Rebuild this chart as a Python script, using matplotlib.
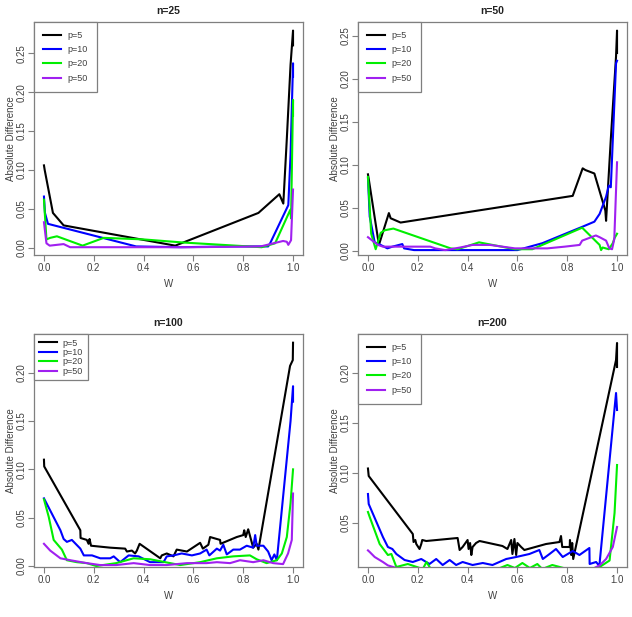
import matplotlib
matplotlib.use('Agg')
import matplotlib.pyplot as plt

plt.rcParams['font.family'] = ['Liberation Sans', 'DejaVu Sans']

labels = ['p=5', 'p=10', 'p=20', 'p=50']
colors = ['black', '#0000FF', '#00EE00', '#A020F0']

# ---- n=25 ----
w25_p5 = [0.0, 0.003, 0.036, 0.079, 0.527, 0.861, 0.945, 0.961, 0.975, 0.990, 1.0, 1.0]
d25_p5 = [0.106, 0.100, 0.045, 0.029, 0.003, 0.045, 0.069, 0.057, 0.140, 0.235, 0.279, 0.260]
w25_p10 = [0.0, 0.004, 0.016, 0.37, 0.55, 0.75, 0.90, 0.908, 0.981, 0.99, 1.0, 1.0]
d25_p10 = [0.066, 0.045, 0.031, 0.002, 0.001, 0.002, 0.002, 0.006, 0.055, 0.12, 0.237, 0.22]
w25_p20 = [0.0, 0.010, 0.025, 0.052, 0.155, 0.24, 0.40, 0.56, 0.874, 0.928, 0.989, 0.992, 1.0, 1.0]
d25_p20 = [0.062, 0.011, 0.013, 0.015, 0.003, 0.013, 0.011, 0.007, 0.001, 0.006, 0.049, 0.038, 0.19, 0.17]
w25_p50 = [0.0, 0.010, 0.023, 0.079, 0.105, 0.30, 0.60, 0.87, 0.96, 0.975, 0.981, 0.992, 1.0]
d25_p50 = [0.033, 0.006, 0.003, 0.005, 0.001, 0.001, 0.001, 0.002, 0.009, 0.008, 0.004, 0.010, 0.075]

# ---- n=50 ----
w50_p5 = [0.0, 0.004, 0.044, 0.084, 0.091, 0.131, 0.822, 0.862, 0.873, 0.909, 0.953, 0.956, 0.975, 0.996, 1.0, 1.0]
d50_p5 = [0.089, 0.082, 0.007, 0.044, 0.038, 0.033, 0.064, 0.096, 0.094, 0.090, 0.047, 0.035, 0.13, 0.226, 0.256, 0.23]
w50_p10 = [0.0, 0.007, 0.027, 0.044, 0.078, 0.098, 0.138, 0.145, 0.185, 0.60, 0.70, 0.86, 0.909, 0.93, 0.956, 0.967, 0.975, 0.996, 1.0]
d50_p10 = [0.085, 0.040, 0.010, 0.008, 0.003, 0.005, 0.008, 0.003, 0.001, 0.001, 0.009, 0.028, 0.034, 0.043, 0.063, 0.076, 0.074, 0.218, 0.221]
w50_p20 = [0.0, 0.013, 0.031, 0.051, 0.067, 0.102, 0.332, 0.36, 0.446, 0.50, 0.59, 0.66, 0.86, 0.93, 0.936, 0.942, 0.967, 0.983, 0.99, 1.0]
d50_p20 = [0.086, 0.020, 0.002, 0.021, 0.024, 0.026, 0.003, 0.002, 0.010, 0.007, 0.002, 0.002, 0.027, 0.007, 0.001, 0.004, 0.002, 0.009, 0.015, 0.020]
w50_p50 = [0.0, 0.04, 0.06, 0.19, 0.25, 0.27, 0.31, 0.37, 0.42, 0.49, 0.59, 0.72, 0.79, 0.85, 0.86, 0.915, 0.93, 0.956, 0.969, 0.98, 0.989, 1.0]
d50_p50 = [0.016, 0.007, 0.005, 0.005, 0.005, 0.003, 0.001, 0.004, 0.007, 0.007, 0.003, 0.003, 0.005, 0.007, 0.012, 0.018, 0.016, 0.012, 0.003, 0.002, 0.014, 0.103]

# ---- n=100 ----
w100_p5 = [0.0, 0.001, 0.146, 0.147, 0.172, 0.179, 0.183, 0.189, 0.266, 0.326, 0.333, 0.353, 0.366, 0.373,
           0.384, 0.467, 0.473, 0.493, 0.52, 0.533, 0.574, 0.627, 0.638, 0.66, 0.667, 0.707, 0.709, 0.774,
           0.80, 0.804, 0.81, 0.82, 0.84, 0.854, 0.861, 0.988, 0.999, 1.0]
d100_p5 = [0.110, 0.103, 0.037, 0.029, 0.027, 0.023, 0.028, 0.021, 0.019, 0.018, 0.015, 0.016, 0.013, 0.016,
           0.023, 0.008, 0.011, 0.013, 0.010, 0.017, 0.015, 0.024, 0.018, 0.022, 0.030, 0.027, 0.023, 0.030,
           0.032, 0.037, 0.030, 0.038, 0.019, 0.023, 0.017, 0.207, 0.213, 0.231]
w100_p10 = [0.0, 0.066, 0.079, 0.092, 0.112, 0.146, 0.16, 0.193, 0.226, 0.266, 0.28, 0.306, 0.34, 0.38,
            0.426, 0.48, 0.493, 0.52, 0.553, 0.594, 0.627, 0.653, 0.664, 0.694, 0.707, 0.72, 0.734, 0.76,
            0.787, 0.814, 0.84, 0.848, 0.854, 0.881, 0.90, 0.914, 0.925, 0.935, 0.99, 1.0, 1.0]
d100_p10 = [0.070, 0.037, 0.028, 0.025, 0.027, 0.018, 0.011, 0.011, 0.008, 0.008, 0.010, 0.004, 0.011, 0.010,
            0.004, 0.004, 0.010, 0.011, 0.013, 0.011, 0.013, 0.017, 0.011, 0.018, 0.016, 0.022, 0.012, 0.017,
            0.017, 0.021, 0.019, 0.032, 0.021, 0.021, 0.015, 0.006, 0.012, 0.006, 0.15, 0.186, 0.17]
w100_p20 = [0.0, 0.019, 0.039, 0.072, 0.092, 0.132, 0.172, 0.21, 0.29, 0.36, 0.426, 0.507, 0.547, 0.627,
            0.694, 0.76, 0.827, 0.854, 0.894, 0.935, 0.955, 0.975, 0.99, 1.0]
d100_p20 = [0.069, 0.051, 0.027, 0.017, 0.006, 0.004, 0.003, 0.000, 0.003, 0.008, 0.007, 0.003, 0.001, 0.004,
            0.008, 0.010, 0.011, 0.007, 0.003, 0.006, 0.013, 0.030, 0.065, 0.100]
w100_p50 = [0.0, 0.025, 0.066, 0.106, 0.172, 0.226, 0.29, 0.36, 0.426, 0.493, 0.574, 0.653, 0.694, 0.747,
            0.787, 0.84, 0.881, 0.92, 0.96, 0.98, 0.995, 1.0]
d100_p50 = [0.023, 0.016, 0.008, 0.006, 0.003, 0.001, 0.001, 0.003, 0.001, 0.001, 0.003, 0.003, 0.004, 0.003,
            0.006, 0.004, 0.006, 0.003, 0.002, 0.013, 0.027, 0.075]

# ---- n=200 ----
w200_p5 = [0.0, 0.003, 0.18, 0.183, 0.19, 0.194, 0.207, 0.214, 0.218, 0.234, 0.36, 0.368, 0.38, 0.40,
           0.404, 0.41, 0.415, 0.42, 0.434, 0.448, 0.54, 0.56, 0.575, 0.58, 0.588, 0.595, 0.60, 0.615,
           0.628, 0.715, 0.769, 0.775, 0.78, 0.81, 0.811, 0.816, 0.82, 0.824, 0.996, 1.0, 1.0]
d200_p5 = [0.1045, 0.097, 0.039, 0.031, 0.033, 0.029, 0.024, 0.029, 0.033, 0.032, 0.035, 0.023, 0.026, 0.033,
           0.024, 0.030, 0.018, 0.026, 0.030, 0.032, 0.027, 0.024, 0.033, 0.019, 0.034, 0.018, 0.030, 0.026,
           0.023, 0.029, 0.031, 0.037, 0.026, 0.026, 0.033, 0.018, 0.030, 0.014, 0.213, 0.230, 0.206]
w200_p10 = [0.0, 0.003, 0.06, 0.08, 0.098, 0.114, 0.147, 0.18, 0.214, 0.247, 0.274, 0.30, 0.328, 0.354,
            0.38, 0.42, 0.461, 0.50, 0.555, 0.595, 0.648, 0.688, 0.702, 0.729, 0.755, 0.782, 0.822, 0.849,
            0.889, 0.89, 0.916, 0.929, 0.996, 1.0]
d200_p10 = [0.079, 0.069, 0.036, 0.026, 0.024, 0.019, 0.013, 0.011, 0.014, 0.009, 0.014, 0.008, 0.013, 0.008,
            0.011, 0.008, 0.010, 0.008, 0.014, 0.016, 0.019, 0.023, 0.014, 0.019, 0.024, 0.016, 0.022, 0.018,
            0.025, 0.009, 0.011, 0.007, 0.180, 0.163]
w200_p20 = [0.0, 0.007, 0.047, 0.08, 0.094, 0.114, 0.16, 0.22, 0.235, 0.25, 0.30, 0.40, 0.52, 0.56, 0.59,
            0.62, 0.65, 0.68, 0.70, 0.74, 0.80, 0.88, 0.93, 0.97, 0.99, 1.0]
d200_p20 = [0.061, 0.056, 0.029, 0.018, 0.019, 0.006, 0.009, 0.004, 0.011, 0.005, 0.004, 0.003, 0.004, 0.008,
            0.005, 0.010, 0.005, 0.009, 0.004, 0.008, 0.004, 0.003, 0.006, 0.0125, 0.06, 0.108]
w200_p50 = [0.0, 0.007, 0.027, 0.06, 0.08, 0.114, 0.20, 0.40, 0.60, 0.80, 0.90, 0.93, 0.956, 0.983, 1.0]
d200_p50 = [0.0226, 0.021, 0.016, 0.011, 0.0076, 0.005, 0.003, 0.003, 0.003, 0.003, 0.004, 0.0076, 0.014, 0.026, 0.046]

xticks = [0.0, 0.2, 0.4, 0.6, 0.8, 1.0]
frame_col = '#7f7f7f'
text_col = '#404040'


def draw_panel(rect, title, series, ylim, yticks, spacing, bpad):
    ax = fig.add_axes(rect)
    for (w, d), col, lab in zip(series, colors, labels):
        ax.plot(w, d, color=col, lw=1.5, label=lab)
    ax.set_xlim(-0.04, 1.04)
    ax.set_ylim(*ylim)
    ax.set_xticks(xticks)
    ax.set_xticklabels(['%.1f' % t for t in xticks])
    ax.set_yticks(yticks)
    ax.set_yticklabels(['%.2f' % t for t in yticks], rotation=90, va='center')
    for s in ax.spines.values():
        s.set_color(frame_col)
        s.set_linewidth(0.9)
    ax.tick_params(direction='out', length=4, width=0.8, color=frame_col,
                   labelsize=7, labelcolor=text_col, pad=2)
    ax.tick_params(axis='y', pad=1)
    ax.set_xlabel('W', fontsize=7, color=text_col, labelpad=4)
    ax.set_ylabel('Absolute Difference', fontsize=7, color=text_col, labelpad=1)
    ax.set_title(title, fontsize=7.5, fontweight='bold', color='#222222', pad=5.5)
    leg = ax.legend(loc='upper left', borderaxespad=0, fancybox=False, framealpha=1,
                    edgecolor=frame_col, fontsize=6.5, labelspacing=spacing,
                    handlelength=2.0, handletextpad=0.7, borderpad=bpad)
    leg.get_frame().set_linewidth(0.9)
    for t in leg.get_texts():
        t.set_color(text_col)
    return ax


fig = plt.figure(figsize=(6.32, 6.17), dpi=100)

w_ax = 269 / 632
h_ax = 233 / 617
left1, left2 = 34 / 632, 358 / 632
bot1, bot2 = 1 - 255 / 617, 1 - 567 / 617

draw_panel([left1, bot1, w_ax, h_ax], 'n=25',
           [(w25_p5, d25_p5), (w25_p10, d25_p10), (w25_p20, d25_p20), (w25_p50, d25_p50)],
           (-0.009, 0.290), [0.0, 0.05, 0.10, 0.15, 0.20, 0.25], 0.58, 1.0)
draw_panel([left2, bot1, w_ax, h_ax], 'n=50',
           [(w50_p5, d50_p5), (w50_p10, d50_p10), (w50_p20, d50_p20), (w50_p50, d50_p50)],
           (-0.0047, 0.266), [0.0, 0.05, 0.10, 0.15, 0.20, 0.25], 0.58, 1.0)
draw_panel([left1, bot2, w_ax, h_ax], 'n=100',
           [(w100_p5, d100_p5), (w100_p10, d100_p10), (w100_p20, d100_p20), (w100_p50, d100_p50)],
           (-0.001, 0.240), [0.0, 0.05, 0.10, 0.15, 0.20], 0.05, 0.5)
draw_panel([left2, bot2, w_ax, h_ax], 'n=200',
           [(w200_p5, d200_p5), (w200_p10, d200_p10), (w200_p20, d200_p20), (w200_p50, d200_p50)],
           (0.006, 0.239), [0.05, 0.10, 0.15, 0.20], 0.58, 1.0)

fig.savefig('out.png', dpi=100)
